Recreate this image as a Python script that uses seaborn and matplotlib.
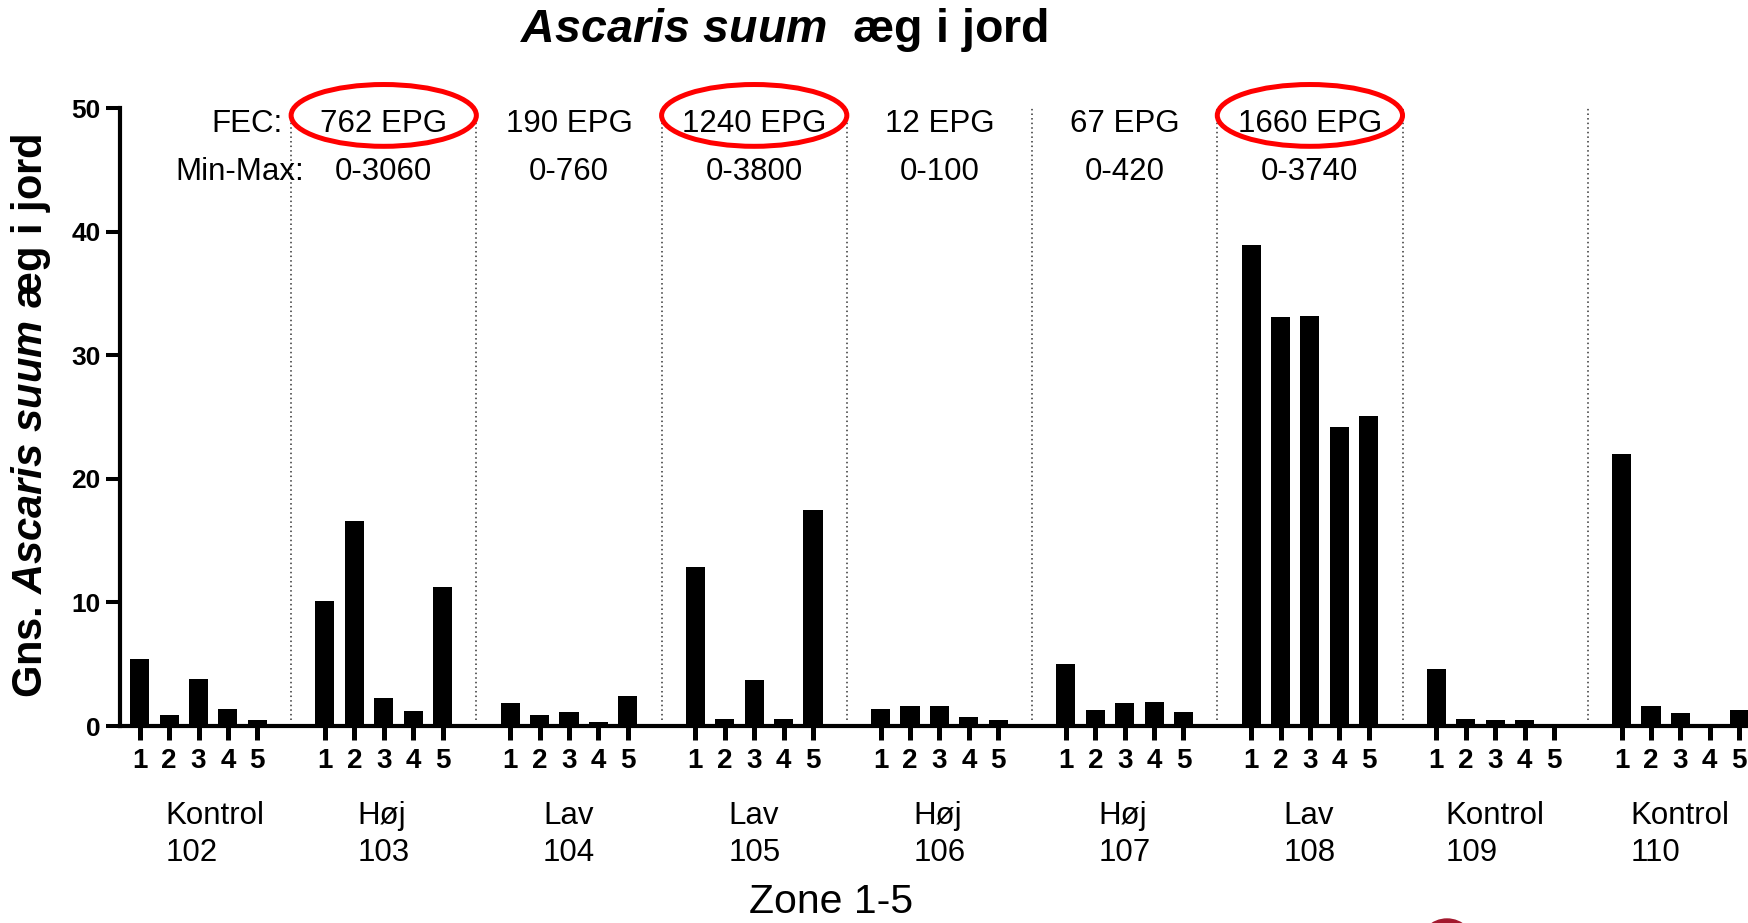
"""Ascaris suum eggs in soil per plot and zone."""

import numpy as np
import pandas as pd
import matplotlib
matplotlib.use("Agg")
import matplotlib.pyplot as plt
from matplotlib.patches import Ellipse
import seaborn as sns

# --- data ---
plots = ["102", "103", "104", "105", "106", "107", "108", "109", "110"]
treatment = ["Kontrol", "Høj", "Lav", "Lav", "Høj", "Høj", "Lav", "Kontrol", "Kontrol"]
fec = ["", "762 EPG", "190 EPG", "1240 EPG", "12 EPG", "67 EPG", "1660 EPG", "", ""]
minmax = ["", "0-3060", "0-760", "0-3800", "0-100", "0-420", "0-3740", "", ""]
circled = ["103", "105", "108"]
zones = [1, 2, 3, 4, 5]

eggs_102 = [5.4, 0.85, 3.8, 1.35, 0.45]
eggs_103 = [10.15, 16.55, 2.3, 1.25, 11.25]
eggs_104 = [1.9, 0.85, 1.1, 0.3, 2.4]
eggs_105 = [12.85, 0.55, 3.75, 0.55, 17.45]
eggs_106 = [1.4, 1.6, 1.65, 0.7, 0.45]
eggs_107 = [5.05, 1.3, 1.9, 1.95, 1.15]
eggs_108 = [38.95, 33.1, 33.2, 24.2, 25.1]
eggs_109 = [4.65, 0.6, 0.45, 0.45, 0.0]
eggs_110 = [22.0, 1.6, 1.05, 0.0, 1.3]
eggs = [eggs_102, eggs_103, eggs_104, eggs_105, eggs_106,
        eggs_107, eggs_108, eggs_109, eggs_110]

GROUP_STEP = 6.3  # bar slots per plot incl. gap

rows = []
for g, (plot, vals) in enumerate(zip(plots, eggs)):
    for z, v in zip(zones, vals):
        rows.append({"plot": plot, "zone": z, "value": v,
                     "pos": round(g * GROUP_STEP + z - 1, 3)})
df = pd.DataFrame(rows)

sns.set_theme(style="ticks")
plt.rcParams["font.family"] = ["Liberation Sans", "DejaVu Sans"]
plt.rcParams["text.color"] = "black"
plt.rcParams["xtick.color"] = "black"
plt.rcParams["ytick.color"] = "black"
plt.rcParams["mathtext.fontset"] = "custom"
plt.rcParams["mathtext.it"] = "Liberation Sans:italic:bold"
plt.rcParams["mathtext.rm"] = "Liberation Sans:bold"
plt.rcParams["mathtext.bf"] = "Liberation Sans:bold"

W, H = 1748, 923
fig = plt.figure(figsize=(W / 100, H / 100), dpi=100)
ax = fig.add_axes([120 / W, (H - 726) / H, (W - 120) / W, 618 / H])

sns.barplot(data=df, x="pos", y="value", native_scale=True, color="black",
            saturation=1, width=0.65, errorbar=None, linewidth=0, ax=ax)

ax.set_xlim(-0.67, 54.7)
ax.set_ylim(0, 50)
ax.set_xlabel("")
ax.set_ylabel("")
sns.despine(ax=ax)
for s in ["left", "bottom"]:
    ax.spines[s].set_linewidth(3.0)
    ax.spines[s].set_color("black")

ax.set_xticks(df["pos"])
ax.set_xticklabels([str(z) for z in df["zone"]], fontsize=20, fontweight="bold")
ax.tick_params(axis="x", length=10, width=3.6, pad=6, colors="black")
ax.set_yticks([0, 10, 20, 30, 40, 50])
ax.set_yticklabels(["0", "10", "20", "30", "40", "50"], fontsize=19, fontweight="bold")
ax.tick_params(axis="y", length=10, width=2.9, pad=4, colors="black")

# dotted separators between plots
for g in range(len(plots) - 1):
    xs = g * GROUP_STEP + 4 + (GROUP_STEP - 4) / 2
    ax.vlines(xs, 0.5, 50, colors="#333333", linestyles=(0, (1, 2)), linewidth=1.1)

# header: FEC and min-max per plot
ax.text(4.85, 48.08, "FEC:", ha="right", va="baseline", fontsize=22.5)
ax.text(5.6, 44.17, "Min-Max:", ha="right", va="baseline", fontsize=22.5)
for g, plot in enumerate(plots):
    cx = g * GROUP_STEP + 2
    if fec[g]:
        ax.text(cx, 48.08, fec[g], ha="center", va="baseline", fontsize=22.5)
        ax.text(cx, 44.17, minmax[g], ha="center", va="baseline", fontsize=22.5)
    if plot in circled:
        ax.add_patch(Ellipse((cx, 49.4), 6.3, 5.0, fill=False, edgecolor="#ff0000",
                             linewidth=3.6, clip_on=False, zorder=5))
    shift = 0.55 if g == 0 else 0
    ax.text(cx + shift, -0.121, f"{treatment[g]}\n{plot}",
            transform=ax.get_xaxis_transform(), ha="center", va="top",
            multialignment="left", fontsize=22.5, linespacing=1.3)

fig.text(784 / W, (H - 42) / H, r"$\it{Ascaris\ suum}$  æg i jord", ha="center",
         va="baseline", fontsize=33.5, fontweight="bold")
fig.text(31 / W, (H - 416) / H, r"Gns. $\it{Ascaris\ suum}$ æg i jord", ha="center",
         va="center", rotation=90, fontsize=30, fontweight="bold")
fig.text(831 / W, (H - 913) / H, "Zone 1-5", ha="center", va="baseline", fontsize=29.5)

# corner of a logo peeking in at the bottom
fig.add_artist(Ellipse((1447 / W, -24 / H), 56 / W, 56 / H, transform=fig.transFigure,
                       color="#a3192e", zorder=0))

fig.savefig("out.png", dpi=100)
